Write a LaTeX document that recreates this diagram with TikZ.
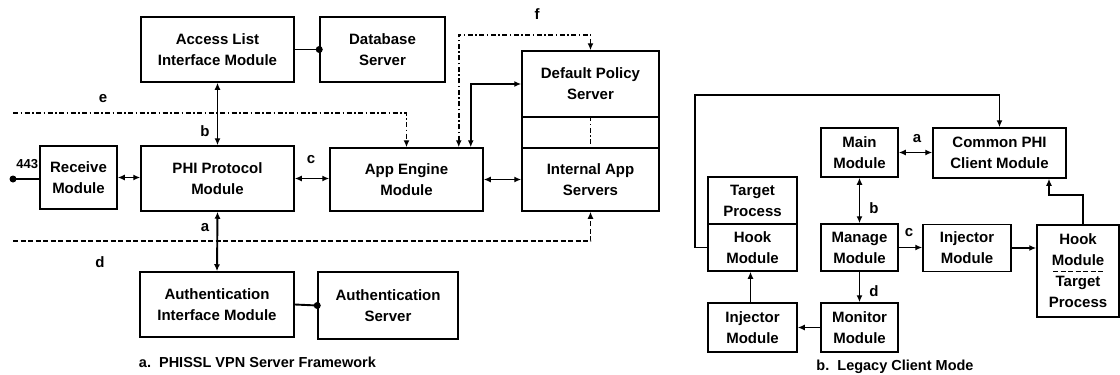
\documentclass[tikz,border=0pt]{standalone}
\usepackage{fontspec}
\setmainfont{Liberation Sans}
\usetikzlibrary{arrows.meta}
\begin{document}
\begin{tikzpicture}[x=1pt,y=-1pt,line width=1.9pt,
  >={Latex[length=7pt,width=6pt]},
  box/.style={draw,line width=1.5pt,align=center,inner sep=0pt,
    font=\fontsize{15}{21}\selectfont\bfseries},
  lbl/.style={font=\fontsize{15}{15}\selectfont\bfseries,inner sep=0pt},
  captxt/.style={font=\fontsize{14.5}{15}\selectfont\bfseries,inner sep=0pt},
  dashdot/.style={dash pattern=on 5pt off 2.5pt on 1.5pt off 2.5pt},
  dsh/.style={dash pattern=on 5pt off 2.5pt}
]
\useasboundingbox (0,0) rectangle (1120,375);

% ---------- left diagram ----------
\node[box,minimum width=153,minimum height=65] (acl) at (217.5,49.5) {Access List\\Interface Module};
\node[box,minimum width=125,minimum height=65] (db) at (382.5,49.5) {Database\\Server};
\node[box,minimum width=153,minimum height=65] (phi) at (217.5,178.5) {PHI Protocol\\Module};
\node[box,minimum width=77,minimum height=63] (recv) at (78.5,177.5) {Receive\\Module};
\node[box,minimum width=153,minimum height=63] (app) at (406.5,179.5) {App Engine\\Module};
\node[box,minimum width=137,minimum height=66] (dps) at (590.5,84) {Default Policy\\Server};
\node[box,minimum width=137,minimum height=31] (gap) at (590.5,132.5) {};
\node[box,minimum width=137,minimum height=63] (ias) at (590.5,179.5) {Internal App\\Servers};
\node[box,minimum width=154,minimum height=65] (auth) at (217,304.5) {Authentication\\Interface Module};
\node[box,minimum width=140,minimum height=67] (asrv) at (388,305.5) {Authentication\\Server};

\draw (acl.east) -- (db.west);
\fill (db.west) circle (3.5);
\draw[<->] (acl.south) -- (phi.north);
\node[lbl] (lb) at (205,131) {b};

\coordinate (eS) at (13,113);
\draw[dashdot,->] (eS) -| (app.north);
\node[lbl] (le) at (103,99) {e};

\coordinate (p443) at (13,179);
\draw (p443) -- (p443 -| recv.west);
\fill (p443) circle (3.5);
\node[lbl,anchor=east,font=\fontsize{13}{13}\selectfont\bfseries] (l443) at (39,164) {443};

\draw[<->] (recv.east) -- (recv.east -| phi.west);
\draw[<->] (phi.east) -- (phi.east -| app.west);
\node[lbl] (lc) at (311,160) {c};
\draw[<->] (app.east) -- (ias.west);

\draw[<->] ([xshift=-13pt]app.north east) |- (dps.west);
\coordinate (fT) at (590.5,35);
\draw[dashdot,<->] ([xshift=-25pt]app.north east) |- (fT) -- (dps.north);
\node[lbl] (lf) at (537,14) {f};
\draw[dashdot] (gap.north) -- (gap.south);

\coordinate (dS) at (13,241);
\draw[dsh,->] (dS) -| (ias.south);
\node[lbl] (ld) at (100,262) {d};
\draw[<->] (phi.south) -- (auth.north);
\node[lbl] (la) at (205,228) {a};

\draw (auth.east) -- (asrv.west);
\fill (asrv.west) circle (3.5);

\node[captxt,anchor=west] (capa) at (138,362) {a.\ \ PHISSL VPN Server Framework};

% ---------- right diagram ----------
\node[box,minimum width=89,minimum height=47] (tp) at (752.5,200.5) {Target\\Process};
\node[box,minimum width=89,minimum height=47] (hk) at (752.5,247.5) {Hook\\Module};
\node[box,minimum width=77,minimum height=49] (main) at (859.5,152.5) {Main\\Module};
\node[box,minimum width=133,minimum height=50] (com) at (999.5,153) {Common PHI\\Client Module};
\node[box,minimum width=77,minimum height=47] (man) at (859.5,247.5) {Manage\\Module};
\node[box,minimum width=88,minimum height=47] (inj2) at (967,248) {Injector\\Module};
\node[box,minimum width=82,minimum height=92] (hk2) at (1078,271) {Hook\\Module\\Target\\Process};
\node[box,minimum width=77,minimum height=49] (mon) at (859.5,327.5) {Monitor\\Module};
\node[box,minimum width=89,minimum height=49] (inj1) at (752.5,327.5) {Injector\\Module};

\draw[dsh,line width=0.6pt] ([xshift=-25pt]hk2.center) -- ([xshift=25pt]hk2.center);

\coordinate (L1) at (695,95);
\draw[->] (hk.west) -| (L1) -| (com.north);
\draw[<->] (main.east) -- (main.east -| com.west);
\node[lbl] (ra) at (917,139) {a};
\draw[<->] (main.south) -- (man.north);
\node[lbl] (rb) at (874,208) {b};
\draw[->] (man.east) -- (man.east -| inj2.west);
\node[lbl] (rc) at (909,233) {c};
\draw[->] (inj2.east) -- (inj2.east -| hk2.west);
\coordinate (R1) at (1049,195);
\draw[->] ([xshift=5pt]hk2.north) |- (R1) -- (R1 |- com.south);
\draw[->] (man.south) -- (mon.north);
\node[lbl] (rd) at (874,291) {d};
\draw[->] (mon.west) -- (inj1.east);
\draw[->] ([xshift=-2pt]inj1.north) -- ([xshift=-2pt]hk.south);

\node[captxt] (capb) at (895,367) {b.\ \ Legacy Client Mode};
\end{tikzpicture}
\end{document}
